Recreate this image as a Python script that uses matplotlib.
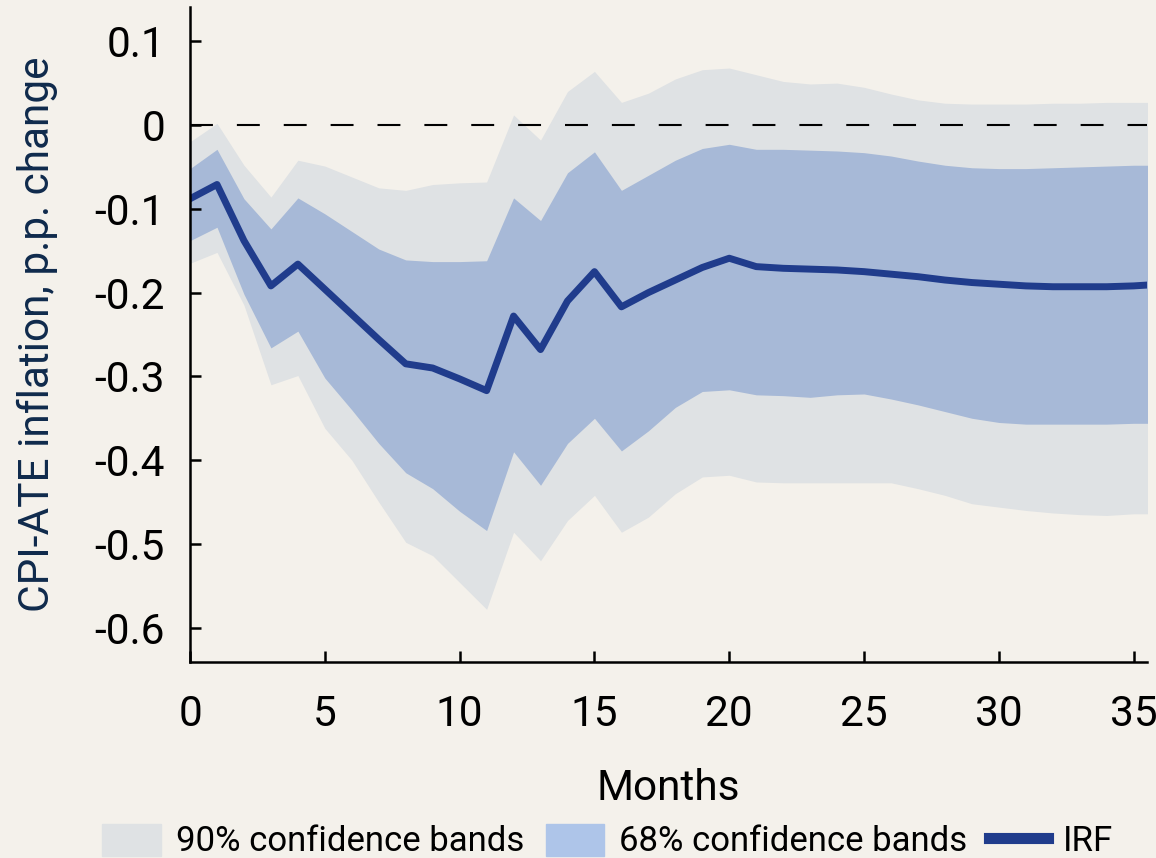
import numpy as np
import matplotlib
matplotlib.use("Agg")
import matplotlib.pyplot as plt
from matplotlib.patches import Patch
from matplotlib.lines import Line2D

# months after shock
months = list(range(37))

# impulse response, p.p.
irf = [-0.088, -0.071, -0.138, -0.192, -0.166, -0.196, -0.226, -0.256, -0.285, -0.290,
       -0.303, -0.317, -0.228, -0.268, -0.210, -0.175, -0.217, -0.200, -0.185, -0.170,
       -0.159, -0.169, -0.171, -0.172, -0.173, -0.175, -0.178, -0.181, -0.185, -0.188,
       -0.190, -0.192, -0.193, -0.193, -0.193, -0.192, -0.190]

# 68% confidence band
upper68 = [-0.052, -0.029, -0.088, -0.124, -0.087, -0.106, -0.127, -0.148, -0.161, -0.163,
           -0.163, -0.162, -0.087, -0.114, -0.057, -0.032, -0.078, -0.060, -0.042, -0.028,
           -0.023, -0.029, -0.029, -0.030, -0.031, -0.033, -0.037, -0.043, -0.048, -0.051,
           -0.052, -0.052, -0.051, -0.050, -0.049, -0.048, -0.048]
lower68 = [-0.138, -0.122, -0.202, -0.266, -0.246, -0.302, -0.340, -0.380, -0.415, -0.434,
           -0.461, -0.484, -0.390, -0.430, -0.380, -0.350, -0.389, -0.365, -0.337, -0.318,
           -0.316, -0.322, -0.323, -0.325, -0.322, -0.321, -0.327, -0.334, -0.342, -0.350,
           -0.355, -0.357, -0.357, -0.357, -0.357, -0.356, -0.356]

# 90% confidence band
upper90 = [-0.020, 0.002, -0.048, -0.086, -0.042, -0.049, -0.062, -0.075, -0.078, -0.071,
           -0.069, -0.068, 0.012, -0.018, 0.040, 0.064, 0.027, 0.038, 0.055, 0.066,
           0.068, 0.060, 0.052, 0.049, 0.050, 0.045, 0.037, 0.030, 0.026, 0.025,
           0.025, 0.025, 0.026, 0.026, 0.027, 0.027, 0.027]
lower90 = [-0.165, -0.152, -0.215, -0.310, -0.299, -0.362, -0.400, -0.450, -0.498, -0.514,
           -0.546, -0.578, -0.486, -0.520, -0.472, -0.442, -0.486, -0.468, -0.440, -0.420,
           -0.418, -0.426, -0.427, -0.427, -0.427, -0.427, -0.427, -0.434, -0.442, -0.452,
           -0.456, -0.460, -0.463, -0.465, -0.466, -0.464, -0.464]

xticks = [0, 5, 10, 15, 20, 25, 30, 35]
yticks = [0.1, 0, -0.1, -0.2, -0.3, -0.4, -0.5, -0.6]
ytick_labels = ["0.1", "0", "-0.1", "-0.2", "-0.3", "-0.4", "-0.5", "-0.6"]

bg = "#f4f1eb"
c90 = "#dfe2e4"
c68 = "#a7b9d7"
c68_legend = "#aec5e9"
c_irf = "#203c8c"

plt.rcParams['font.family'] = ['Roboto', 'DejaVu Sans']

fig = plt.figure(figsize=(11.56, 8.58), dpi=100, facecolor=bg)
ax = fig.add_axes([0.1644, 0.2288, 0.8275, 0.7627])
ax.set_facecolor(bg)

ax.fill_between(months, lower90, upper90, color=c90, lw=0)
ax.fill_between(months, lower68, upper68, color=c68, lw=0)
ax.axhline(0, color="black", lw=1.5, dashes=(11, 11.5))
ax.plot(months, irf, color=c_irf, lw=5, solid_joinstyle="round")

ax.set_xlim(0.17, 35.48)
ax.set_ylim(-0.6405, 0.1405)
ax.set_xticks(xticks)
ax.set_yticks(yticks)
ax.set_yticklabels(ytick_labels)

for s in ["top", "right"]:
    ax.spines[s].set_visible(False)
for s in ["left", "bottom"]:
    ax.spines[s].set_linewidth(1.8)

ax.tick_params(axis="both", direction="in", length=8, width=1.8, labelsize=30.5)
ax.tick_params(axis="y", pad=18)
ax.tick_params(axis="x", pad=23)

ax.set_xlabel("Months", fontsize=30.5, labelpad=24)
ax.set_ylabel("CPI-ATE inflation, p.p. change", fontsize=30.5, color="#0f2a4c", labelpad=26)

handles = [Patch(color=c90, label="90% confidence bands"),
           Patch(color=c68_legend, label="68% confidence bands"),
           Line2D([], [], color=c_irf, lw=8, label="IRF")]
fig.legend(handles=handles, loc="center", bbox_to_anchor=(0.5255, 0.0198), ncol=3,
           frameon=False, fontsize=25, handlelength=1.68, handleheight=1.05,
           columnspacing=0.63, handletextpad=0.43)

fig.savefig("out.png", dpi=100, facecolor=bg)
